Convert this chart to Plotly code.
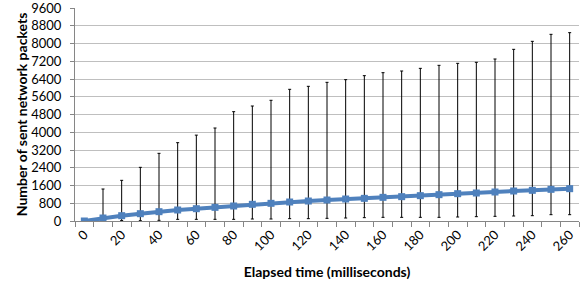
import plotly.graph_objects as go

elapsed_ms = [0, 10, 20, 30, 40, 50, 60, 70, 80, 90, 100, 110, 120, 130,
              140, 150, 160, 170, 180, 190, 200, 210, 220, 230, 240, 250, 260]
mean_packets = [0, 135, 240, 330, 420, 496, 555, 615, 676, 751, 797, 856, 901, 946,
                991, 1021, 1066, 1097, 1142, 1187, 1232, 1262, 1307, 1352, 1382, 1427, 1457]
max_packets = [0, 1442, 1833, 2419, 3050, 3530, 3870, 4191, 4927, 5183, 5440, 5935, 6070, 6250,
               6370, 6550, 6685, 6760, 6880, 7016, 7106, 7151, 7301, 7737, 8098, 8413, 8488]
min_packets = [0, 60, 20, 15, 30, 75, 75, 75, 75, 90, 90, 105, 105, 120,
               135, 150, 165, 165, 165, 165, 180, 195, 210, 225, 240, 285, 285]
x_tick_labels = [str(v) for v in range(0, 261, 20)]
y_ticks = list(range(0, 9601, 800))

err_plus = [hi - m for hi, m in zip(max_packets, mean_packets)]
err_minus = [m - lo for lo, m in zip(min_packets, mean_packets)]

font_family = "Lato, Open Sans, Liberation Sans, Arial, sans-serif"

fig = go.Figure()
fig.add_trace(go.Scatter(
    x=elapsed_ms, y=mean_packets, mode="lines+markers",
    line=dict(color="#4F81BD", width=4),
    marker=dict(symbol="square", size=7, color="#4F81BD"),
    error_y=dict(type="data", symmetric=False, array=err_plus, arrayminus=err_minus,
                 color="black", thickness=1, width=1.5),
    showlegend=False,
))

fig.update_layout(
    width=581, height=284,
    margin=dict(l=75, r=2, t=8, b=63),
    plot_bgcolor="white", paper_bgcolor="white",
    font=dict(family=font_family, size=13, color="black"),
    xaxis=dict(
        range=[-5, 265], automargin=False, ticklabeloverflow="allow",
        tickvals=list(range(0, 261, 20)), ticktext=x_tick_labels,
        tickangle=-45, ticks="", showgrid=False, zeroline=False,
        showline=True, linecolor="#868686", linewidth=1,
        minor=dict(ticks="outside", tick0=-5, dtick=10, ticklen=5, tickcolor="#868686", showgrid=False),
        tickfont=dict(size=13),
        title=dict(text="<b>Elapsed time (milliseconds)</b>", font=dict(size=14), standoff=14),
    ),
    yaxis=dict(
        range=[0, 9600], automargin=False, ticklabeloverflow="allow", tickvals=y_ticks,
        showgrid=True, gridcolor="#BFBFBF", gridwidth=1, zeroline=False,
        showline=True, linecolor="#868686", linewidth=1,
        ticks="outside", ticklen=4, tickcolor="#868686", ticklabelstandoff=6,
        tickfont=dict(size=13),
        title=dict(text="<b>Number of sent network packets</b>", font=dict(size=14), standoff=0),
    ),
)

fig.write_html("out.html", config={"displayModeBar": False},
               post_script="document.body.style.margin='0';")
